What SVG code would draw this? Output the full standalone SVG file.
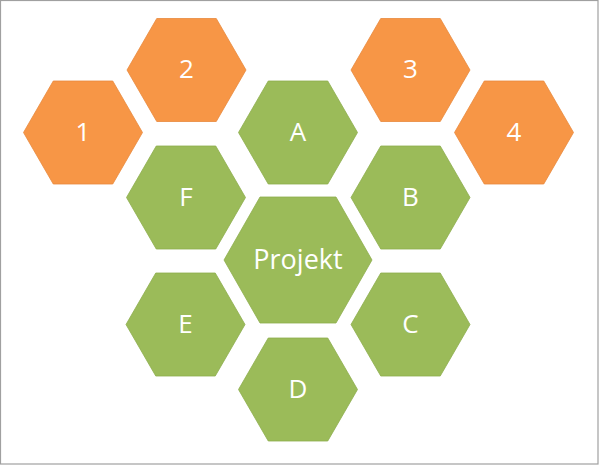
<svg xmlns="http://www.w3.org/2000/svg" xmlns:xlink="http://www.w3.org/1999/xlink" width="600" height="465" viewBox="0 0 600 465">
<style>
.o{fill:#F79646;stroke:#E8893C;stroke-width:0.8}
.g{fill:#9BBB59;stroke:#8DAD4C;stroke-width:0.8}
text{font-family:"Open Sans","Noto Sans","DejaVu Sans",sans-serif;fill:#FFFFFF;text-anchor:middle}
.s{font-size:26px}
.p{font-size:27px}
</style>
<defs>
<polygon id="hs" points="-59.5,0 -29.75,-51.5 29.75,-51.5 59.5,0 29.75,51.5 -29.75,51.5"/>
<polygon id="hb" points="-74,0 -38,-63 38,-63 74,0 38,63 -38,63"/>
</defs>
<rect x="0.5" y="0.5" width="597.5" height="463.5" fill="#FFFFFF" stroke="#A0A0A0" stroke-width="1.2"/>
<g id="n1"><use xlink:href="#hs" x="83" y="132.5" class="o"/><text class="s" x="83" y="140.5">1</text></g>
<g id="n2"><use xlink:href="#hs" x="186.5" y="70" class="o"/><text class="s" x="186.5" y="78">2</text></g>
<g id="n3"><use xlink:href="#hs" x="410.5" y="70" class="o"/><text class="s" x="410.5" y="78">3</text></g>
<g id="n4"><use xlink:href="#hs" x="514" y="132.5" class="o"/><text class="s" x="514" y="140.5">4</text></g>
<g id="nA"><use xlink:href="#hs" x="298" y="132.5" class="g"/><text class="s" x="298" y="140.5">A</text></g>
<g id="nF"><use xlink:href="#hs" x="186" y="197.5" class="g"/><text class="s" x="186" y="205.5">F</text></g>
<g id="nB"><use xlink:href="#hs" x="410.5" y="197.5" class="g"/><text class="s" x="410.5" y="205.5">B</text></g>
<g id="nE"><use xlink:href="#hs" x="185.5" y="324.5" class="g"/><text class="s" x="185.5" y="332.5">E</text></g>
<g id="nC"><use xlink:href="#hs" x="410.5" y="324.5" class="g"/><text class="s" x="410.5" y="332.5">C</text></g>
<g id="nD"><use xlink:href="#hs" x="298" y="389.5" class="g"/><text class="s" x="298" y="397.5">D</text></g>
<g id="nProjekt"><use xlink:href="#hb" x="298" y="260" class="g"/><text class="p" x="298" y="268.5">Projekt</text></g>
<g id="connectors"/>
</svg>
